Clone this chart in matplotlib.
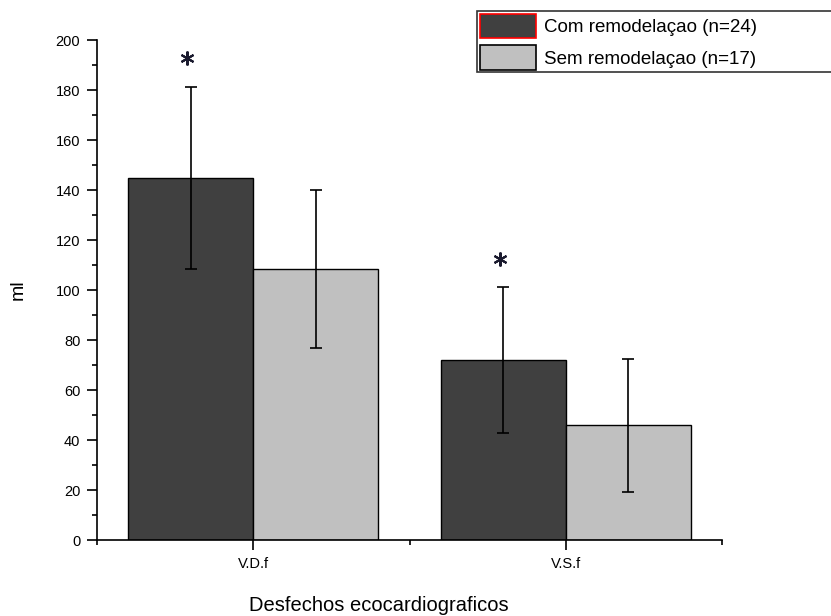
import numpy as np
import matplotlib
matplotlib.use("Agg")
import matplotlib.pyplot as plt
from matplotlib.patches import Patch

plt.rcParams['font.family'] = ['Liberation Sans', 'DejaVu Sans']

# data
groups = ['V.D.f', 'V.S.f']
com_mean = [145.0, 72.0]
com_sd = [36.4, 29.3]
sem_mean = [108.3, 46.0]
sem_sd = [31.6, 26.6]
sig_y = [193, 112.5]   # asterisk heights over the "com" bars
labels = ['Com remodelaçao (n=24)', 'Sem remodelaçao (n=17)']

dark = '#404040'
light = '#c0c0c0'
w = 0.4

fig = plt.figure(figsize=(8.31, 6.16), dpi=100)
ax = fig.add_axes([97/831, 76/616, 625/831, 500/616])

x = np.arange(1, len(groups) + 1)
ax.bar(x - w/2, com_mean, w, color=dark, edgecolor='black', linewidth=1)
ax.bar(x + w/2, sem_mean, w, color=light, edgecolor='black', linewidth=1)
ax.errorbar(x - w/2, com_mean, yerr=com_sd, fmt='none', ecolor='black',
            elinewidth=1.2, capsize=4, capthick=1.2)
ax.errorbar(x + w/2, sem_mean, yerr=sem_sd, fmt='none', ecolor='black',
            elinewidth=1.2, capsize=4, capthick=1.2)

# significance marks
ax.plot(x - w/2 - 0.012, sig_y, linestyle='none', marker=(6, 2, 0),
        markersize=10, markeredgewidth=1.5, color='#1a1a2e', clip_on=False)

ax.set_xlim(0.5, 2.5)
ax.set_ylim(0, 200)
ax.set_xticks(x)
ax.set_xticklabels(groups)
ax.set_xticks([0.5, 1.5, 2.5], minor=True)
ax.set_yticks(np.arange(0, 201, 20))
ax.set_yticks(np.arange(10, 200, 20), minor=True)

for s in ['top', 'right']:
    ax.spines[s].set_visible(False)
for s in ['left', 'bottom']:
    ax.spines[s].set_linewidth(1.2)

ax.tick_params(axis='both', which='major', direction='out', length=7, width=1.2,
               labelsize=10.5, colors='black')
ax.tick_params(axis='both', which='minor', direction='out', length=3.5, width=1.2)
ax.tick_params(axis='y', which='major', pad=5)
ax.tick_params(axis='x', which='major', pad=5)

ax.set_ylabel('ml', fontsize=14)
ax.yaxis.set_label_coords(-0.112, 0.5)
ax.set_xlabel('Desfechos ecocardiograficos', fontsize=14.5)
ax.xaxis.set_label_coords(0.451, -0.112)

handles = [Patch(facecolor=dark, edgecolor='red', linewidth=1.2),
           Patch(facecolor=light, edgecolor='black', linewidth=1.2)]
leg = fig.legend(handles, labels, loc='upper left',
                 bbox_to_anchor=(477/831, 1 - 11/616, 420/831, 0), mode='expand',
                 fontsize=13.5, frameon=True, fancybox=False, edgecolor='black',
                 handlelength=3.0, handleheight=1.6, labelspacing=0.4,
                 borderpad=0.15, handletextpad=0.4, borderaxespad=0)
leg.get_frame().set_linewidth(1.2)

fig.savefig('out.png', dpi=100)
